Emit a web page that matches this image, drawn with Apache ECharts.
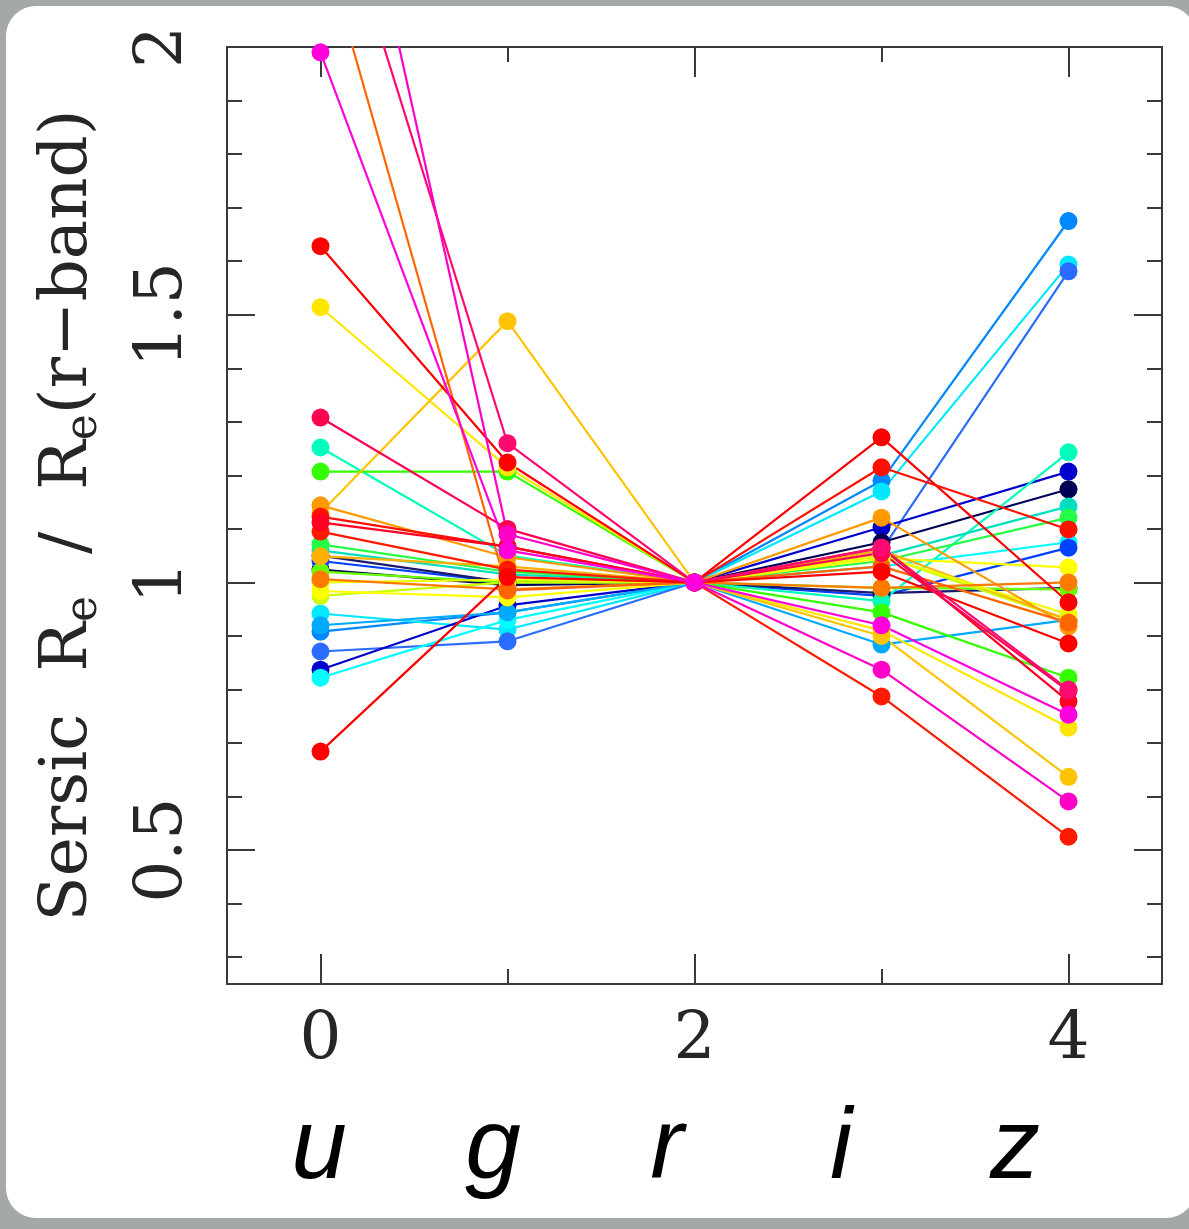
<!DOCTYPE html>
<html>
<head>
<meta charset="utf-8">
<script src="https://cdn.jsdelivr.net/npm/echarts@6/dist/echarts.min.js"></script>
<style>
    html, body { margin: 0; padding: 0; background: #a4a9a7; }
    #card { position: absolute; left: 6px; top: 6px; width: 1190px; height: 1212px; background: #fff; border-radius: 30px; }
    #chart { position: absolute; left: 0; top: 0; width: 1189px; height: 1229px; }
</style>
</head>
<body>
<div id="card"></div>
<div id="chart"></div>
<script>
// band index on x, r-band is the reference (always 1)
const bandX = [0, 1, 2, 3, 4];
const bandNames = ['u', 'g', 'r', 'i', 'z'];
const yMajor = [0.5, 1, 1.5, 2];
const yMinor = [0.3, 0.4, 0.6, 0.7, 0.8, 0.9, 1.1, 1.2, 1.3, 1.4, 1.6, 1.7, 1.8, 1.9];
const xMajor = [0, 2, 4];
const xMinor = [1, 3];

// one entry per galaxy, drawn in this order (last on top)
const lineColors = [
    '#0088ff', '#00e8ff', '#2a6cff', '#0000cc', '#000055', '#00ffff', '#0040ff', '#1a1a70', '#00aaff',
    '#00ffbb', '#00e0c0', '#33ff00', '#22ff44', '#66ff00',
    '#ccff00', '#ffff00', '#ffe600', '#ffc400', '#ffb000', '#eeff00',
    '#ff9900', '#ff7a00', '#ff6600', '#ff1100',
    '#ff0000', '#ff1a00', '#ff0000', '#ff0022', '#ff0050', '#ff0a70',
    '#ff00c8', '#ff00dd'
];
const sersicU = [
    0.908, 0.942, 0.871, 0.837, 1.024, 0.822, 1.040, 1.050, 0.920,
    1.252, 1.060, 1.207, 1.071, 1.020,
    0.975, 0.984, 1.514, 1.130, 1.049, 1.000,
    1.144, 1.006, 2.210, 1.123,
    1.628, 1.095, 0.684, 1.112, 1.308, 2.380,
    2.660, 1.990
];
const sersicG = [
    0.944, 0.912, 0.890, 0.957, 0.995, 0.930, 1.000, 1.000, 0.944,
    1.050, 1.015, 1.207, 1.020, 1.000,
    1.000, 0.972, 1.215, 1.488, 1.030, 1.005,
    1.047, 0.987, 0.985, 1.067,
    1.224, 1.024, 1.010, 1.067, 1.100, 1.260,
    1.090, 1.060
];
const sersicR = [
    1, 1, 1, 1, 1, 1, 1, 1, 1,
    1, 1, 1, 1, 1,
    1, 1, 1, 1, 1, 1,
    1, 1, 1, 1,
    1, 1, 1, 1, 1, 1,
    1, 1
];
const sersicI = [
    1.190, 1.170, 1.060, 1.103, 1.075, 1.030, 0.975, 0.980, 0.884,
    0.965, 1.050, 0.944, 1.040, 0.990,
    1.050, 1.045, 0.910, 0.900, 1.060, 1.050,
    1.121, 0.990, 1.030, 1.215,
    1.271, 0.787, 1.020, 1.065, 1.055, 1.065,
    0.837, 0.920
];
const sersicZ = [
    1.675, 1.594, 1.581, 1.207, 1.174, 1.075, 1.065, 0.990, 0.930,
    1.243, 1.142, 0.822, 1.121, 0.987,
    0.930, 1.028, 0.729, 0.637, 0.930, 0.940,
    0.918, 1.000, 0.925, 1.099,
    0.963, 0.525, 0.886, 0.778, 0.797, 0.800,
    0.591, 0.753
];

const labelFont = 'DejaVu Serif';
const axisColor = '#3a3a3a';
const textColor = '#262626';

function makeSeries() {
    return lineColors.map((color, k) => {
        const vals = [sersicU[k], sersicG[k], sersicR[k], sersicI[k], sersicZ[k]];
        return {
            type: 'line',
            xAxisIndex: 0,
            yAxisIndex: 0,
            symbol: 'circle',
            symbolSize: 18,
            showAllSymbol: true,
            clip: true,
            lineStyle: { color: color, width: 2.2 },
            itemStyle: { color: color },
            emphasis: { disabled: true },
            data: bandX.map((x, i) => [x, vals[i]])
        };
    });
}

function tickAxis(kind, position, values, len, withLabels) {
    const base = {
        type: 'value',
        position: position,
        gridIndex: 0,
        min: kind === 'x' ? -0.5 : 0.25,
        max: kind === 'x' ? 4.5 : 2,
        splitLine: { show: false },
        axisLine: { show: withLabels, onZero: false, lineStyle: { color: axisColor, width: 2 } },
        axisTick: {
            show: true,
            inside: true,
            length: len,
            customValues: values,
            lineStyle: { color: axisColor, width: 2 }
        },
        axisLabel: { show: false }
    };
    if (withLabels && position !== 'top' && position !== 'right') {
        base.axisLabel = {
            show: true,
            customValues: values,
            color: textColor,
            fontFamily: labelFont,
            fontSize: 66,
            margin: kind === 'x' ? 24 : 30,
            rotate: kind === 'x' ? 0 : 90,
            formatter: (v) => String(v)
        };
    }
    return base;
}

const chart = echarts.init(document.getElementById('chart'));
const yLeft = tickAxis('y', 'left', yMajor, 28, true);
yLeft.name = 'Sersic  R{sub|e}  /  R{sub|e}(r\u2212band)';
yLeft.nameLocation = 'middle';
yLeft.nameGap = 120;
yLeft.nameRotate = 90;
yLeft.nameTextStyle = {
    color: textColor,
    fontFamily: labelFont,
    fontSize: 66,
    rich: {
        sub: { fontFamily: labelFont, fontSize: 44, color: textColor, padding: [32, 0, 0, 0] }
    }
};

chart.setOption({
    animation: false,
    backgroundColor: 'transparent',
    grid: { left: 227, right: 27, top: 47, bottom: 245, containLabel: false },
    xAxis: [
        tickAxis('x', 'bottom', xMajor, 30, true),
        tickAxis('x', 'bottom', xMinor, 15, false),
        tickAxis('x', 'top', xMajor, 30, true),
        tickAxis('x', 'top', xMinor, 15, false)
    ],
    yAxis: [
        yLeft,
        tickAxis('y', 'left', yMinor, 15, false),
        tickAxis('y', 'right', yMajor, 28, true),
        tickAxis('y', 'right', yMinor, 15, false)
    ],
    graphic: bandNames.map((name, i) => ({
        type: 'text',
        x: 319 + i * 174,
        y: 1150,
        style: {
            text: name,
            fill: '#000',
            font: 'italic 100px "Liberation Sans"',
            textAlign: 'center',
            textVerticalAlign: 'middle'
        }
    })),
    series: makeSeries()
});
</script>
</body>
</html>
